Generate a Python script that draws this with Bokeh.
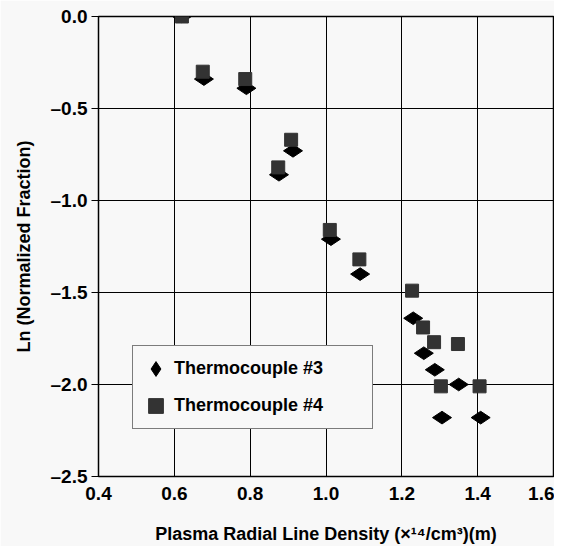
import math
from bokeh.plotting import figure
from bokeh.models import FixedTicker, Range1d, Legend, LegendItem
from bokeh.embed import file_html
from bokeh.resources import INLINE

# ---- data ----
tc3_x = [0.62, 0.678, 0.79, 0.876, 0.913, 1.013, 1.09, 1.23, 1.258, 1.287, 1.35, 1.306, 1.408]
tc3_y = [0.0, -0.34, -0.39, -0.86, -0.73, -1.21, -1.40, -1.64, -1.83, -1.92, -2.00, -2.18, -2.18]
tc4_x = [0.62, 0.675, 0.787, 0.874, 0.908, 1.01, 1.088, 1.227, 1.256, 1.285, 1.348, 1.303, 1.405]
tc4_y = [0.0, -0.30, -0.34, -0.82, -0.67, -1.16, -1.32, -1.49, -1.69, -1.77, -1.78, -2.01, -2.01]

x_ticks = [0.4, 0.6, 0.8, 1.0, 1.2, 1.4, 1.6]
x_tick_labels = ["0.4", "0.6", "0.8", "1.0", "1.2", "1.4", "1.6"]
y_ticks = [0.0, -0.5, -1.0, -1.5, -2.0, -2.5]
y_tick_labels = ["0.0", "\u20130.5", "\u20131.0", "\u20131.5", "\u20132.0", "\u20132.5"]

series_labels = ["Thermocouple #3", "Thermocouple #4"]
x_title = "Plasma Radial Line Density (\u00d7\u00b9\u2074/cm\u00b3)(m)"
y_title = "Ln (Normalized Fraction)"

FONT = "Liberation Sans Narrow, Arial Narrow, Liberation Sans, sans-serif"
BG = "#f8f8f8"

p = figure(output_backend="svg", toolbar_location=None,
           frame_width=455, frame_height=460,
           min_border_left=98, min_border_right=1,
           min_border_top=16, min_border_bottom=64,
           x_range=Range1d(0.4, 1.6), y_range=Range1d(-2.5, 0.0))

p.background_fill_color = BG
p.border_fill_color = BG
p.outline_line_color = "black"
p.outline_line_width = 1.5

p.xaxis.ticker = FixedTicker(ticks=x_ticks)
p.yaxis.ticker = FixedTicker(ticks=y_ticks)
p.xaxis.major_label_overrides = {t: l for t, l in zip(x_ticks, x_tick_labels)}
p.yaxis.major_label_overrides = {t: l for t, l in zip(y_ticks, y_tick_labels)}

for ax in (p.xaxis[0], p.yaxis[0]):
    ax.axis_line_color = "black"
    ax.major_tick_line_color = "black"
    ax.minor_tick_line_color = None
    ax.major_tick_in = 0
    ax.major_label_text_font = FONT
    ax.major_label_text_font_style = "bold"
    ax.major_label_text_font_size = "19px"
    ax.major_label_text_color = "black"
    ax.axis_label_text_font = FONT
    ax.axis_label_text_font_style = "bold"
    ax.axis_label_text_font_size = "18px"
    ax.axis_label_text_color = "black"

p.xaxis.major_tick_out = 0
p.xaxis.major_label_standoff = 10
p.xaxis.axis_label = x_title
p.xaxis.axis_label_standoff = 21
p.yaxis.major_tick_out = 7
p.yaxis.major_label_standoff = 4
p.yaxis.axis_label = y_title
p.yaxis.axis_label_standoff = 14

p.xgrid.ticker = FixedTicker(ticks=x_ticks[1:-1])
p.ygrid.ticker = FixedTicker(ticks=y_ticks[1:-1])
p.grid.grid_line_color = "black"
p.grid.grid_line_width = 1

r3 = p.scatter(tc3_x, tc3_y, marker="diamond", size=19, angle=math.pi / 2,
               fill_color="black", line_color="black")
r4 = p.scatter(tc4_x, tc4_y, marker="square", size=13,
               fill_color="#333333", line_color="#333333")

legend = Legend(items=[LegendItem(label=series_labels[0], renderers=[r3]),
                       LegendItem(label=series_labels[1], renderers=[r4])],
                location=(34, 47))
legend.label_text_font = FONT
legend.label_text_font_style = "bold"
legend.label_text_font_size = "18px"
legend.label_text_color = "black"
legend.border_line_color = "black"
legend.border_line_width = 1
legend.background_fill_color = BG
legend.background_fill_alpha = 1
legend.padding = 4
legend.spacing = 0
legend.glyph_height = 37
legend.label_height = 37
legend.glyph_width = 37
legend.label_standoff = 0
legend.label_width = 194
legend.margin = 0
p.add_layout(legend, "center")

open("out.html", "w").write(file_html(p, INLINE))
